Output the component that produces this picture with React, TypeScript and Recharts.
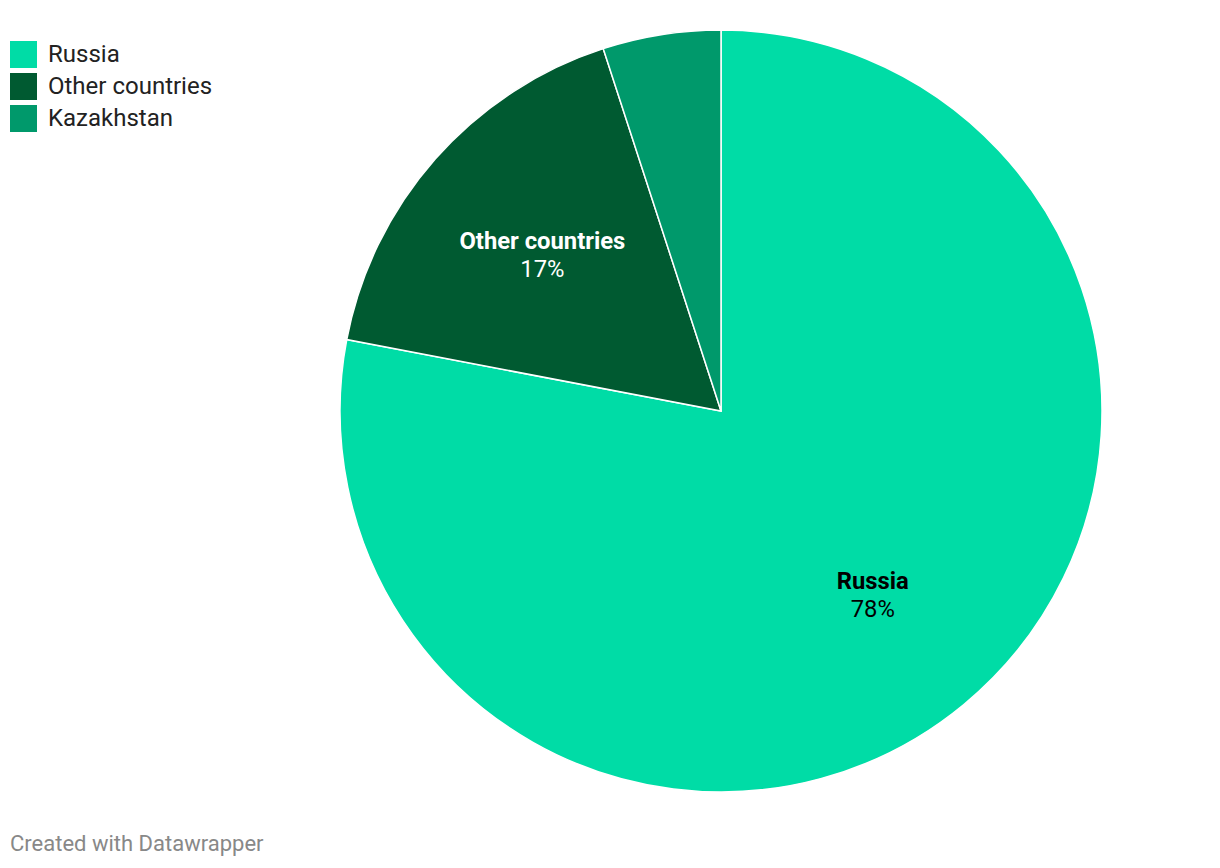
import { PieChart, Pie, Cell } from 'recharts';

const countries = ['Russia', 'Other countries', 'Kazakhstan'];
const shares = [78, 17, 5];
const colors = ['#00dca6', '#005a31', '#00996b'];
// label color per slice, Kazakhstan has no label on the chart
const labelColors = ['#000000', '#ffffff', ''];

const data = countries.map((name, i) => ({ name, value: shares[i] }));

const RADIAN = Math.PI / 180;

function SliceLabel(props: any) {
  const { cx, cy, midAngle, outerRadius, index } = props;
  if (!labelColors[index]) return null;
  const r = outerRadius * 0.625;
  const x = cx + r * Math.cos(-midAngle * RADIAN);
  const y = cy + r * Math.sin(-midAngle * RADIAN);
  return (
    <text x={x} y={y} textAnchor="middle" fill={labelColors[index]} fontFamily="Roboto" fontSize={23.8}>
      <tspan x={x} dy={-5} fontWeight={700}>{data[index].name}</tspan>
      <tspan x={x} dy={28}>{shares[index]}%</tspan>
    </text>
  );
}

function LegendBox() {
  return (
    <div style={{ position: 'absolute', left: 10, top: 38, fontFamily: 'Roboto', fontSize: 24, color: '#222' }}>
      {countries.map((c, i) => (
        <div key={c} style={{ display: 'flex', alignItems: 'center', height: 32 }}>
          <span style={{ width: 27, height: 27, background: colors[i], marginRight: 11, display: 'inline-block' }} />
          <span>{c}</span>
        </div>
      ))}
    </div>
  );
}

export default function App() {
  return (
    <div style={{ position: 'absolute', left: 0, top: 0, width: 1220, height: 868, background: '#fff' }}>
      <PieChart width={1220} height={868} margin={{ top: 0, right: 0, bottom: 0, left: 0 }}>
        <Pie
          data={data}
          dataKey="value"
          nameKey="name"
          cx={721}
          cy={411}
          outerRadius={381}
          startAngle={90}
          endAngle={-270}
          stroke="#ffffff"
          strokeWidth={1.5}
          label={SliceLabel}
          labelLine={false}
          isAnimationActive={false}
        >
          {data.map((d, i) => (
            <Cell key={d.name} fill={colors[i]} />
          ))}
        </Pie>
      </PieChart>
      <LegendBox />
      <div style={{ position: 'absolute', left: 10, top: 831, fontFamily: 'Roboto', fontSize: 22, color: '#888' }}>
        Created with Datawrapper
      </div>
    </div>
  );
}
